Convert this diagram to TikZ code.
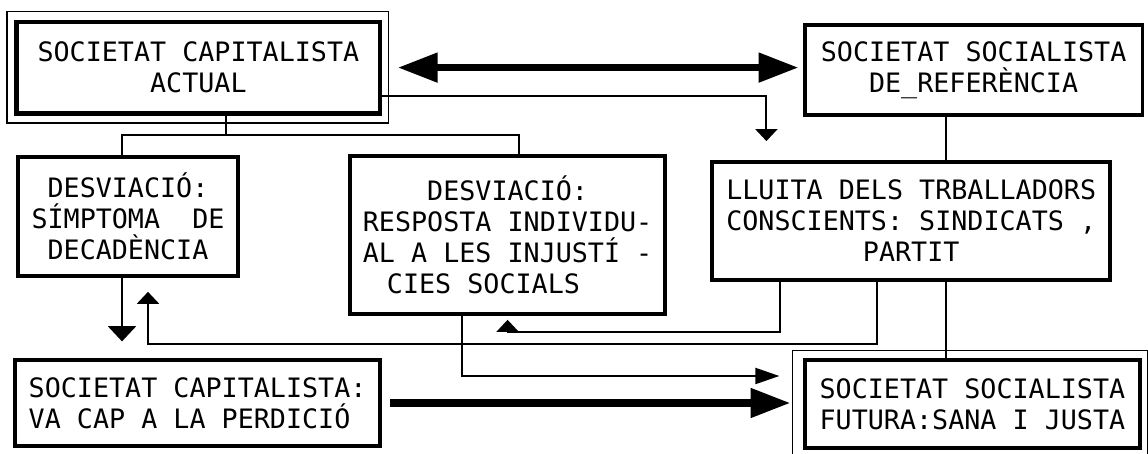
\documentclass[tikz,border=0pt]{standalone}
\usepackage{fontspec}
\setmonofont{DejaVu Sans Mono}
\usetikzlibrary{positioning, arrows.meta, calc}

\begin{document}
\begin{tikzpicture}[
  box/.style={draw, line width=2.6pt, align=center, font=\ttfamily\fontsize{19}{22}\selectfont},
  link/.style={line width=1.5pt},
  tip/.style={link, >={Triangle[length=0.3cm, width=0.55cm]}},
  fat/.style={line width=5.5pt, >={Triangle[length=1cm, width=0.7cm]}},
  frame/.style={line width=1.2pt}
]
\useasboundingbox (0,0) rectangle (28.7,11.35);
\node[box, line width=3.4pt, minimum width=9.08cm, minimum height=2.28cm] (actual) at (4.96,9.66) {SOCIETAT CAPITALISTA\\ACTUAL};
\node[box, line width=2.2pt, minimum width=8.43cm, minimum height=2.25cm] (referencia) at (24.34,9.6) {SOCIETAT SOCIALISTA\\DE\_REFERÈNCIA};
\node[box, minimum width=5.5cm, minimum height=2.98cm] (simptoma) at (3.2,5.94) {DESVIACIÓ:\\SÍMPTOMA~~DE\\DECADÈNCIA};
\node[box, minimum width=7.88cm, minimum height=3.95cm] (resposta) at (12.69,5.475) {DESVIACIÓ:\\RESPOSTA INDIVIDU-\\AL A LES INJUSTÍ -\\CIES SOCIALS\phantom{XXX}};
\node[box, line width=3pt, minimum width=9.95cm, minimum height=2.95cm] (lluita) at (22.78,5.825) {LLUITA DELS TRBALLADORS\\CONSCIENTS: SINDICATS ,\\PARTIT};
\node[box, align=left, minimum width=9.13cm, minimum height=2.15cm] (perdicio) at (4.94,1.275) {SOCIETAT CAPITALISTA:\\VA CAP A LA PERDICIÓ};
\node[box, line width=3.2pt, minimum width=8.38cm, minimum height=2.2cm] (futura) at (24.31,1.25) {SOCIETAT SOCIALISTA\\FUTURA:SANA I JUSTA};
% thin outer frames
\draw[frame] ([shift={(-0.18,0.2)}]actual.north west) rectangle ([shift={(0.15,-0.18)}]actual.south east);
\draw[frame] ([shift={(-0.25,0.18)}]futura.north west) rectangle ([shift={(0.15,-0.12)}]futura.south east);
% big arrows
\draw[fat, <->, shorten <=0.38cm, shorten >=0.12cm] (actual.east) -- (actual.east -| referencia.west);
\draw[fat, ->, shorten <=0.2cm, shorten >=0.3cm] (perdicio.east) -- (perdicio.east -| futura.west);
% from the present society
\draw[tip, ->, shorten >=0.47cm] ($(actual.south east)!0.2!(actual.north east)$) -| ($(lluita.north west)!0.14!(lluita.north east)$);
\coordinate (fork) at ($(actual.south)+(0.68,-0.48)$);
\draw[link] (actual.south -| fork) -- (fork);
\draw[link] ([xshift=-0.15cm]simptoma.north) |- (fork) -| ([xshift=0.28cm]resposta.north);
% reference line down to the future society
\coordinate (axis) at ($(referencia.south)+(-0.68,0)$);
\draw[link] (axis) -- (axis |- lluita.north);
\draw[link] (axis |- lluita.south) -- (axis |- futura.north);
% deviations
\draw[tip, ->, shorten >=0.42cm, >={Triangle[length=0.38cm, width=0.7cm]}] ([xshift=-0.15cm]simptoma.south) -- ([xshift=-0.15cm]simptoma.south |- perdicio.north);
\draw[tip, ->, shorten >=0.35cm] ($(lluita.south west)!0.415!(lluita.south east)$) -- ++(0,-1.55) -| ([xshift=0.5cm]simptoma.south);
\draw[tip, ->, shorten >=0.1cm] ($(lluita.south west)!0.173!(lluita.south east)$) -- ++(0,-1.25) -| (resposta.south);
\draw[tip, ->, shorten >=0.58cm, >={Triangle[length=0.6cm, width=0.4cm]}] ([xshift=-1.14cm]resposta.south) |- ([yshift=0.7cm]futura.west);
\end{tikzpicture}
\end{document}
